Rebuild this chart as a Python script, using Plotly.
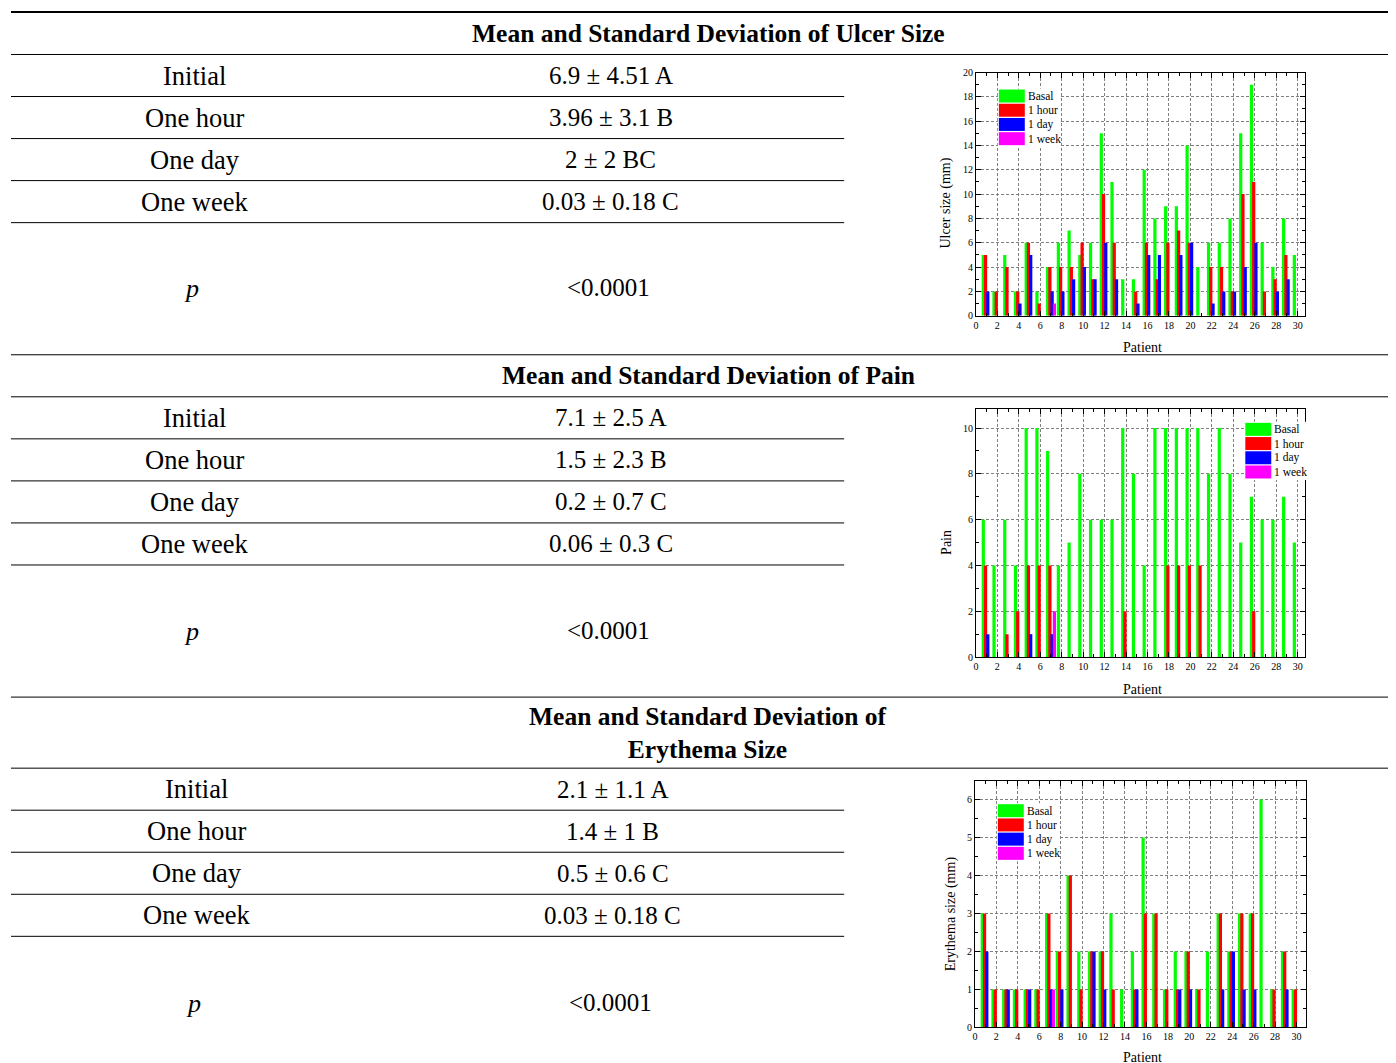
import plotly.graph_objects as go

# page is 1396x1063; the html body keeps an 8px margin
PAGE_W, PAGE_H = 1396, 1063
BODY = 8
W = PAGE_W - 2 * BODY
H = 1061
# small vertical calibration between requested and photographed positions
Y_SCALE, Y_SHIFT = 0.9887, 5.64

# ---------------- data ----------------
patients = list(range(1, 31))
series_names = ["Basal", "1 hour", "1 day", "1 week"]
series_colors = ["#00FF00", "#FF0000", "#0000FF", "#FF00FF"]

ulcer_basal = [5, 2, 5, 2, 6, 2, 4, 6, 7, 5, 6, 15, 11, 3, 3, 12, 8, 9, 9, 14, 4, 6, 6, 8, 15, 19, 6, 4, 8, 5]
ulcer_1hour = [5, 2, 4, 2, 6, 1, 4, 4, 4, 6, 3, 10, 6, 0, 2, 6, 3, 6, 7, 6, 0, 4, 4, 2, 10, 11, 2, 3, 5, 0]
ulcer_1day = [2, 0, 0, 1, 5, 0, 2, 2, 3, 4, 3, 6, 3, 0, 1, 5, 5, 0, 5, 6, 0, 1, 2, 2, 4, 6, 0, 2, 3, 0]
ulcer_1week = [0, 0, 0, 0, 0, 0, 1, 0, 0, 0, 0, 0, 0, 0, 0, 0, 0, 0, 0, 0, 0, 0, 0, 0, 0, 0, 0, 0, 0, 0]

pain_basal = [6, 4, 6, 4, 10, 10, 9, 4, 5, 8, 6, 6, 6, 10, 8, 4, 10, 10, 10, 10, 10, 8, 10, 8, 5, 7, 6, 6, 7, 5]
pain_1hour = [4, 0, 1, 2, 4, 4, 4, 0, 0, 0, 0, 0, 0, 2, 0, 0, 0, 4, 4, 4, 4, 0, 0, 0, 0, 2, 0, 0, 0, 0]
pain_1day = [1, 0, 0, 0, 1, 0, 1, 0, 0, 0, 0, 0, 0, 0, 0, 0, 0, 0, 0, 0, 0, 0, 0, 0, 0, 0, 0, 0, 0, 0]
pain_1week = [0, 0, 0, 0, 0, 0, 2, 0, 0, 0, 0, 0, 0, 0, 0, 0, 0, 0, 0, 0, 0, 0, 0, 0, 0, 0, 0, 0, 0, 0]

ery_basal = [3, 1, 1, 1, 1, 1, 3, 2, 4, 2, 2, 2, 3, 1, 2, 5, 3, 1, 2, 2, 1, 2, 3, 2, 3, 3, 6, 1, 2, 1]
ery_1hour = [3, 1, 1, 1, 1, 1, 3, 2, 4, 1, 2, 2, 1, 0, 1, 3, 3, 1, 1, 2, 1, 0, 3, 2, 3, 3, 0, 1, 2, 1]
ery_1day = [2, 0, 1, 0, 1, 0, 1, 1, 0, 0, 2, 1, 0, 0, 1, 0, 0, 0, 1, 1, 0, 0, 1, 2, 1, 1, 0, 0, 1, 0]
ery_1week = [0, 0, 0, 0, 0, 0, 1, 0, 0, 0, 0, 0, 0, 0, 0, 0, 0, 0, 0, 0, 0, 0, 0, 0, 0, 0, 0, 0, 0, 0]

row_labels = ["Initial", "One hour", "One day", "One week"]
ulcer_stats = ["6.9 ± 4.51 A", "3.96 ± 3.1 B", "2 ± 2 BC", "0.03 ± 0.18 C"]
pain_stats = ["7.1 ± 2.5 A", "1.5 ± 2.3 B", "0.2 ± 0.7 C", "0.06 ± 0.3 C"]
ery_stats = ["2.1 ± 1.1 A", "1.4 ± 1 B", "0.5 ± 0.6 C", "0.03 ± 0.18 C"]
p_value = "<0.0001"

section_titles = [
    "Mean and Standard Deviation of Ulcer Size",
    "Mean and Standard Deviation of Pain",
    "Mean and Standard Deviation of<br>Erythema Size",
]
y_titles = ["Ulcer size (mm)", "Pain", "Erythema size (mm)"]
x_title = "Patient"


# ---------------- helpers (page pixels -> paper) ----------------
def px(x):
    return (x - BODY) / W


def py(y):
    yi = (y - Y_SHIFT) / Y_SCALE
    return 1 - (yi - BODY) / H


SERIF = "Liberation Serif"
shapes = []
annotations = []


def hline(y, x0, x1, w=1.0):
    shapes.append(dict(type="line", xref="paper", yref="paper",
                       x0=px(x0), x1=px(x1), y0=py(y), y1=py(y),
                       line=dict(color="black", width=w)))


def text(x, y, s, size=25, **kw):
    annotations.append(dict(xref="paper", yref="paper", x=px(x), y=py(y), text=s,
                            showarrow=False, xanchor="center", yanchor="middle",
                            font=dict(family=SERIF, size=size, color="black"), **kw))


# ---------------- table ----------------
hline(12.5, 8, 1396, 2)
sections = [
    dict(top=None, title_y=34, head_line=55, stats=ulcer_stats, p_y=289, lx=192, vx=609),
    dict(top=355, title_y=376, head_line=397, stats=pain_stats, p_y=631, lx=192, vx=609),
    dict(top=697, title_y=733, head_line=768, stats=ery_stats, p_y=1003, lx=194, vx=611),
]
for si, s in enumerate(sections):
    if s["top"] is not None:
        hline(s["top"], 8, 1396)
    text(707, s["title_y"], "<b>" + section_titles[si] + "</b>", size=25.5)
    hline(s["head_line"], 8, 1396)
    for i, (lab, val) in enumerate(zip(row_labels, s["stats"])):
        yc = s["head_line"] + 21 + 42 * i
        text(s["lx"], yc, lab, size=26.5)
        text(s["vx"], yc, val, size=25)
        hline(s["head_line"] + 42 * (i + 1), 8, 843)
    text(s["lx"] - 3, s["p_y"], "<i>p</i>", size=26)
    text(s["vx"] - 2, s["p_y"] - 1, p_value, size=25)

# ---------------- charts ----------------
fig = go.Figure()

chart_defs = [
    dict(data=[ulcer_basal, ulcer_1hour, ulcer_1day, ulcer_1week], x0=975, x1=1305, top=73, bot=316,
         yrange=[0, 20], ydt=2, yminor=1, xr=30.7, leg=(998, 90), ytx=945, yty=203, xty=348),
    dict(data=[pain_basal, pain_1hour, pain_1day, pain_1week], x0=975, x1=1305, top=409, bot=657,
         yrange=[0, 10.84], ydt=2, yminor=1, xr=30.7, leg=(1245, 423), ytx=946, yty=542, xty=689),
    dict(data=[ery_basal, ery_1hour, ery_1day, ery_1week], x0=974, x1=1306, top=781, bot=1027,
         yrange=[0, 6.48], ydt=1, yminor=0.5, xr=30.9, leg=(997, 804), ytx=950, yty=913, xty=1057),
]

offsets = [-0.46, -0.25, -0.04, 0.17]
axis_font = dict(family=SERIF, size=10, color="black")

for k, c in enumerate(chart_defs):
    xa = "x" if k == 0 else f"x{k+1}"
    ya = "y" if k == 0 else f"y{k+1}"
    for j in range(4):
        fig.add_trace(go.Bar(x=patients, y=c["data"][j], width=0.3, offset=offsets[j],
                             marker=dict(color=series_colors[j], line=dict(width=0)),
                             name=series_names[j], showlegend=False, xaxis=xa, yaxis=ya,
                             hoverinfo="x+y+name"))
    common = dict(showline=True, linecolor="black", linewidth=1, mirror="ticks",
                  ticks="inside", ticklen=5, tickcolor="black", tickwidth=1,
                  showgrid=True, gridcolor="#808080", griddash="3px,2px", gridwidth=0.8,
                  zeroline=False, tickfont=axis_font)
    xkey = "xaxis" if k == 0 else f"xaxis{k+1}"
    ykey = "yaxis" if k == 0 else f"yaxis{k+1}"
    fig.update_layout(**{
        xkey: dict(domain=[px(c["x0"]), px(c["x1"])], range=[0, c["xr"]], tick0=0, dtick=2,
                   anchor=ya, minor=dict(dtick=1, ticks="inside", ticklen=3, tickcolor="black", showgrid=False),
                   **common),
        ykey: dict(domain=[py(c["bot"]), py(c["top"])], range=c["yrange"], tick0=0, dtick=c["ydt"],
                   anchor=xa, minor=dict(dtick=c["yminor"], ticks="inside", ticklen=3, tickcolor="black", showgrid=False),
                   **common),
    })
    # legend (white box, swatches and labels)
    lx, ly = c["leg"]
    shapes.append(dict(type="rect", xref="paper", yref="paper",
                       x0=px(lx - 1), x1=px(lx + 62), y0=py(ly + 57), y1=py(ly - 1),
                       fillcolor="white", line=dict(width=0)))
    for j in range(4):
        y0 = ly + 14.2 * j
        shapes.append(dict(type="rect", xref="paper", yref="paper",
                           x0=px(lx), x1=px(lx + 26), y0=py(y0 + 13), y1=py(y0),
                           fillcolor=series_colors[j], line=dict(width=0)))
        annotations.append(dict(xref="paper", yref="paper", x=px(lx + 27), y=py(y0 + 6.5),
                                text=series_names[j], showarrow=False, xanchor="left", yanchor="middle",
                                font=dict(family=SERIF, size=11.5, color="black")))
    # axis titles
    annotations.append(dict(xref="paper", yref="paper", x=px(c["ytx"]), y=py(c["yty"]),
                            text=y_titles[k], textangle=-90, showarrow=False,
                            xanchor="center", yanchor="middle",
                            font=dict(family=SERIF, size=14, color="black")))
    annotations.append(dict(xref="paper", yref="paper", x=px(1142), y=py(c["xty"]),
                            text=x_title, showarrow=False, xanchor="center", yanchor="middle",
                            font=dict(family=SERIF, size=14, color="black")))

fig.update_layout(width=W, height=H, margin=dict(l=0, r=0, t=0, b=0),
                  paper_bgcolor="white", plot_bgcolor="white",
                  barmode="overlay", showlegend=False,
                  shapes=shapes, annotations=annotations)

fig.write_html("out.html")
